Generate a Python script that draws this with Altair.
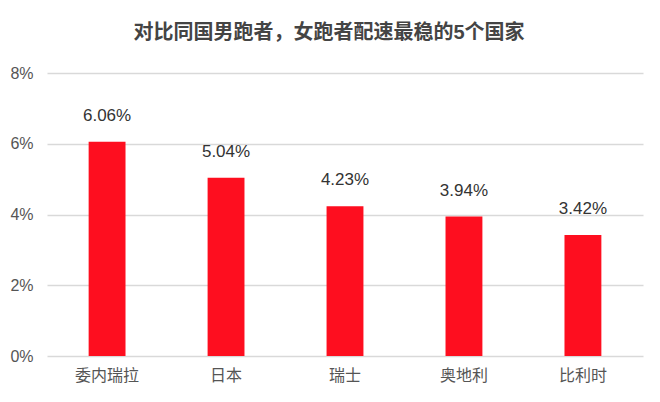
import altair as alt
import pandas as pd

countries = ["委内瑞拉", "日本", "瑞士", "奥地利", "比利时"]
values = [0.0606, 0.0504, 0.0423, 0.0394, 0.0342]
labels = ["6.06%", "5.04%", "4.23%", "3.94%", "3.42%"]
title = "对比同国男跑者，女跑者配速最稳的5个国家"

df = pd.DataFrame({"country": countries, "value": values, "label": labels})

FONT = "Liberation Sans, Noto Sans CJK SC, sans-serif"

base = alt.Chart(df).encode(
    x=alt.X("country:N", sort=countries,
            scale=alt.Scale(paddingInner=0.69, paddingOuter=0.35),
            axis=alt.Axis(title=None, labelAngle=0, domain=False, ticks=False,
                          labelPadding=11, labelFontSize=16, labelColor="#555555",
                          labelFont=FONT)),
    y=alt.Y("value:Q", scale=alt.Scale(domain=[0, 0.08]),
            axis=alt.Axis(title=None, format=".0%", values=[0, 0.02, 0.04, 0.06, 0.08],
                          domain=False, ticks=False, labelPadding=14,
                          labelFontSize=16, labelColor="#555555", labelFont=FONT,
                          grid=True, gridColor="#d9d9d9", gridWidth=1.5)),
)

bars = base.mark_bar(color="#FE0E1F")
text = base.mark_text(baseline="bottom", dy=-17, fontSize=17, color="#333333",
                      font=FONT).encode(text="label:N")

chart = (bars + text).properties(
    width=596, height=283,
    title=alt.TitleParams(title, anchor="middle", fontSize=20, fontWeight="bold",
                          color="#444444", font=FONT, offset=22, dx=-16),
    padding={"left": 39, "top": 65, "right": 9, "bottom": 30},
    autosize=alt.AutoSizeParams(type="none"),
).configure_view(stroke=None)

chart.save("out.html", embed_options={"renderer": "svg", "actions": False})
